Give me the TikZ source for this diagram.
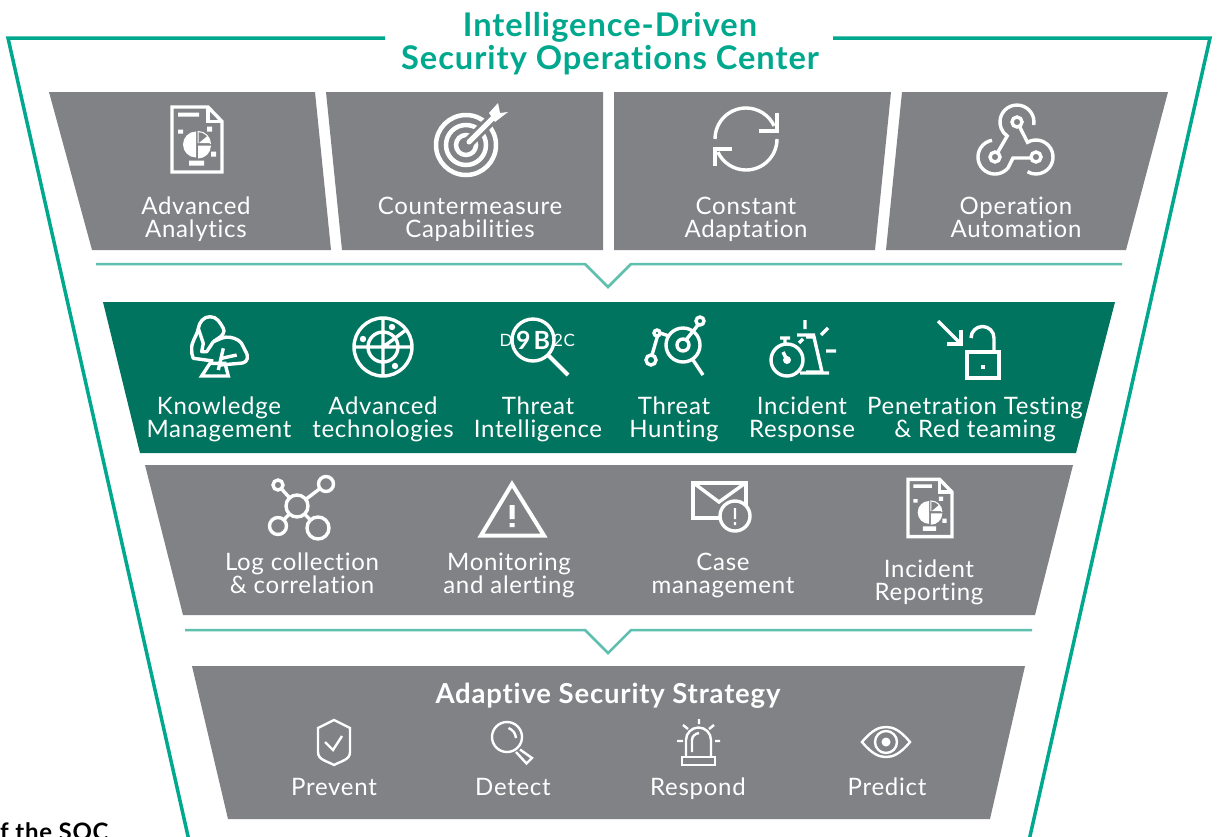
\documentclass[tikz,border=0pt]{standalone}
\usepackage{fontspec}
\setmainfont[LetterSpace=3,Ligatures=NoCommon]{Lato}
\usepackage{tikz}
\usetikzlibrary{
	calc,
	positioning,
}
\definecolor{kgray}{HTML}{808285}
\definecolor{kgreen}{HTML}{00745F}
\definecolor{kteal}{HTML}{00A88E}
\definecolor{klight}{HTML}{5DBFAD}
\tikzset{
	panel/.style={fill=kgray},
	label box/.style={
		white,
		align=center,
		inner sep=0pt,
		text height=40pt,
		text depth=1pt,
		font=\fontsize{24}{23.5}\selectfont,
	},
	small label/.style={
		white,
		inner sep=0pt,
		anchor=base,
		font=\fontsize{24}{23.5}\selectfont,
	},
	heavy/.style={draw=white,line width=3.4pt,line join=miter},
	light/.style={draw=white,line width=2.4pt},
	reportic/.pic={
		\draw[heavy] (-25,32.5) -- (11,32.5) -- (25,18) -- (25,-32.5) -- (-25,-32.5) -- cycle;
		\draw[heavy] (11,32.5) -- (11,18) -- (25,18);
		\fill[white] (-19,27) rectangle (2,23) (-19,10) rectangle (-14,6) (10,13) rectangle (15,8)
			(14,-12) rectangle (19,-17) (-8,-21) rectangle (7,-26);
		\fill[white] (-1,8) arc (90:270:13) -- cycle;
		\fill[white] (1,-6) -- (14,-6) arc (0:-90:13) -- cycle;
		\fill[white] (2,-3.5) -- (13,-3.5) arc (0:40:11) -- cycle;
		\draw[white,line width=1pt] (1,-3.5) -- (1,8) arc (90:0:12.5);
	},
	targetic/.pic={
		\draw[white,line width=4.5pt] (0,0) circle (30) (0,0) circle (20) (0,0) circle (10);
		\draw[kgray,line width=11pt,line cap=round] (3,3) -- (30,30);
		\draw[white,line width=5pt,line cap=round] (3,3) -- (27,27);
		\fill[white] (32,42) -- (34,32) -- (42,33) -- (29,23) -- (23,32) -- cycle;
	},
	syncic/.pic={
		\draw[heavy] (-31,0) arc (180:25:31);
		\draw[heavy] (31,26) -- (31,8) -- (13,8);
		\draw[heavy] (31,0) arc (0:-155:31);
		\draw[heavy] (-14,-10) -- (-31,-10) -- (-31,-27);
	},
	hookic/.pic={
		\draw[heavy] (0,23) circle (5) (-22,-12) circle (5) (19,-12) circle (5);
		\draw[heavy] (16.7,20) arc (-10:235:17) -- (-19.5,-7.7);
		\draw[heavy] (-25,4.7) arc (100:320:17) -- (-4,-13) -- (14,-13);
		\draw[heavy] (2.4,18.6) -- (10.5,2.7) arc (120:-120:17);
	},
	thinkic/.pic={
		\draw[heavy,line join=round] (-4.7,4.3) -- (0.3,7.7) to[out=30,in=-60] (5.3,17.7) to[out=120,in=0] (-8,29.3) to[out=180,in=80] (-19.7,17.7)
			to[out=-100,in=95] (-26.3,-4) to[out=-85,in=120] (-24.7,-12.3) -- (-4.7,-15);
		\draw[heavy,line join=round] (-19.7,17.7) -- (-14.7,2.7) -- (-16.3,-5.7) -- (-11.3,-5.7) -- (-4.7,4.3);
		\draw[heavy,line join=round] (-4.7,4.3) to[out=20,in=170] (12,8.7) to[out=-10,in=110] (25.3,-0.7) to[out=-70,in=80] (29.3,-12.3) to[out=-100,in=0] (22,-17.3) -- (2,-19);
		\draw[heavy] (-8,-17.3) -- (7,-17.3) -- (10.3,-30) -- (-16.3,-30) -- cycle;
		\draw[heavy] (5.3,-2.3) -- (0.3,-24);
		\draw[heavy] (3.7,-12.3) -- (18.7,-9);
	},
	radaric/.pic={
		\draw[heavy] (0,0) circle (29) (0,0) circle (15);
		\draw[heavy] (-29,0) -- (29,0) (0,-29) -- (0,29) (0,0) -- (23,17);
		\fill[white] (9,20) circle (3.2) (-20,8) circle (3.2) (12,-19) circle (3.2);
	},
	lensic/.pic={
		\draw[heavy] (0,0) circle (21);
		\draw[white,line width=4pt] (15,-15) -- (35,-35);
	},
	huntic/.pic={
		\draw[heavy] (3,1) circle (17) (3,1) circle (6) (20,25) circle (4) (-23,13) circle (3) (-29,-14) circle (5);
		\draw[heavy] (13,-14) -- (23,-29) (18,21) -- (6,6) (-28,-9) -- (-22.5,10) (-20,13) -- (-11,10);
	},
	watchic/.pic={
		\draw[heavy] (-13,-13) circle (16);
		\draw[heavy] (-20,9) -- (-10,9) (-15,9) -- (-15,3) (-17,-5) -- (-13,-13) (-1,4) -- (3,8);
		\fill[white] (-13,-13) circle (4);
		\draw[heavy] (6,10) -- (14,10) -- (22,-25) -- (6,-25);
		\draw[heavy] (-3,12) -- (15,12) (0,-26) -- (29,-26) (5,27) -- (5,18) (28,19) -- (21,12) (26,-4) -- (36,-4);
	},
	lockic/.pic={
		\draw[heavy] (-30,29) -- (-8,7);
		\draw[heavy] (-7,20) -- (-7,6) -- (-21,6);
		\draw[heavy] (-1,-2) rectangle (31,-28);
		\draw[heavy] (3,12) arc (180:0:11.5) -- (26,-2);
		\fill[white] (13,-15) rectangle (17,-19);
	},
	logic/.pic={
		\draw[heavy] (-3,1) -- (-22,22) (-3,1) -- (26,23) (-3,1) -- (-22,-19) (-3,1) -- (18,-21);
		\filldraw[heavy,fill=kgray] (-3,1) circle (11) (-22,22) circle (5) (26,23) circle (7.5) (-22,-19) circle (8.5) (18,-21) circle (11);
	},
	warnic/.pic={
		\draw[white,line width=4pt] (0,26) -- (-31,-25.5) -- (32,-25.5) -- cycle;
		\fill[white] (-2.5,5) rectangle (2.5,-9) (-2.5,-13) rectangle (2.5,-17);
	},
	mailic/.pic={
		\draw[heavy] (-27,22) rectangle (26,-13);
		\draw[heavy] (-25,21) -- (-1,3) -- (24,21);
		\filldraw[heavy,fill=kgray] (15,-11) circle (15);
		\fill[white] (13.8,-3) rectangle (16.2,-14) (13.8,-17) rectangle (16.2,-20);
	},
	shieldic/.pic={
		\draw[light] (0,23) -- (16,15) -- (16,-9) to[out=-90,in=30] (0,-22) to[out=150,in=-90] (-16,-9) -- (-16,15) -- cycle;
		\draw[light] (-9,1) -- (-1,-7) -- (8,7);
	},
	loupeic/.pic={
		\draw[light] (0,0) circle (15);
		\draw[light] (13,-12.5) -- (25,-21) -- (19.5,-26.5) -- (9,-15);
		\draw[light] (1.5,9) to[bend left=30] (9,-1);
	},
	beaconic/.pic={
		\draw[light] (-17,-15) rectangle (16,-23);
		\draw[light] (-13,-15) -- (-13,2) arc (180:0:12.5) -- (12,-15);
		\draw[light] (-7,-10) -- (-7,2) to[out=90,in=190] (0,9);
		\draw[light] (0,23) -- (0,18) (-16,17) -- (-11,13) (15,17) -- (10,13) (-22,1) -- (-16,1) (16,1) -- (21,1);
	},
	eyeic/.pic={
		\draw[light] (-24,0) .. controls (-14,12) and (-7,15) .. (0,15) .. controls (7,15) and (14,12) .. (24,0)
			.. controls (14,-12) and (7,-15) .. (0,-15) .. controls (-7,-15) and (-14,-12) .. (-24,0) -- cycle;
		\draw[light] (0,0) circle (11);
		\fill[white] (0,0) circle (4.5);
	},
}

\begin{document}
\begin{tikzpicture}[x=1pt,y=1pt]
\useasboundingbox (0,-836) rectangle (1217,0);

\draw[kteal,line width=3.5pt] (385,-38) -- (8,-38) -- (190,-845);
\draw[kteal,line width=3.5pt] (833,-38) -- (1210,-38) -- (1028,-845);

\node(title) at(610,-44) [kteal,align=center,inner sep=0pt,font=\fontsize{32.6}{33}\selectfont\bfseries] {Intelligence-Driven\\Security Operations Center};

\fill[panel] (49,-92) -- (315,-92) -- (331,-250) -- (92,-250) -- cycle;
\fill[panel] (326,-92) -- (603,-92) -- (603,-250) -- (342,-250) -- cycle;
\fill[panel] (614,-92) -- (891,-92) -- (875,-250) -- (614,-250) -- cycle;
\fill[panel] (902,-92) -- (1168,-92) -- (1126,-250) -- (886,-250) -- cycle;
\fill[kgreen] (103,-302) -- (1115,-302) -- (1076,-453) -- (140,-453) -- cycle;
\fill[panel] (145,-465) -- (1073,-465) -- (1035,-615) -- (183,-615) -- cycle;
\fill[panel] (192,-666) -- (1025,-666) -- (990,-819) -- (228,-819) -- cycle;

\draw[klight,line width=2.5pt] (96,-264) -- (585,-264) -- (608,-287) -- (631,-264) -- (1122,-264);
\draw[klight,line width=2.5pt] (185,-630) -- (585,-630) -- (608,-653) -- (631,-630) -- (1032,-630);

\foreach \x/\y/\txt [count=\i] in {
	196/218/Advanced\\Analytics
	,470/218/Countermeasure\\Capabilities
	,746/218/Constant\\Adaptation
	,1016/218/Operation\\Automation
	,219/418/Knowledge\\Management
	,383/418/Advanced\\technologies
	,538/418/Threat\\Intelligence
	,674/418/Threat\\Hunting
	,802/418/Incident\\Response
	,975/418/Penetration Testing\\\& Red teaming
	,302/574/Log collection\\\& correlation
	,509/574/Monitoring\\and alerting
	,723/574/Case\\management
	,929/581/Incident\\Reporting
}{
	\node(lbl\i) at(\x,-\y) [label box] {\txt};
}

\node(strategy) at(608,-703) [small label,font=\fontsize{27.5}{27}\selectfont\bfseries] {Adaptive Security Strategy};
\foreach \x/\txt [count=\i] in {
	334/Prevent
	,513/Detect
	,698/Respond
	,887/Predict
}{
	\node(act\i) at(\x,-795) [small label] {\txt};
}

\pic at(197,-139.5) {reportic};
\pic at(466,-145) {targetic};
\pic at(746,-139) {syncic};
\pic at(1017,-145) {hookic};

\pic at(218,-346) {thinkic};
\pic at(383,-347) {radaric};
\node(tid) at(506,-340) [white,inner sep=0pt,font=\fontsize{17}{17}\selectfont] {D};
\node(tib) at(533,-340) [white,inner sep=0pt,font=\fontsize{25}{25}\selectfont\bfseries] {9\hspace{3pt}B};
\node(tic) at(564,-340) [white,inner sep=0pt,font=\fontsize{17}{17}\selectfont] {2C};
\pic at(533,-340) {lensic};
\pic at(680,-346) {huntic};
\pic at(800,-347) {watchic};
\pic at(968,-350) {lockic};

\pic at(300,-507) {logic};
\pic at(512,-510) {warnic};
\pic at(720,-505) {mailic};
\pic[scale=.88] at(930,-508) {reportic};

\pic at(334,-743) {shieldic};
\pic at(507,-737) {loupeic};
\pic at(699,-742) {beaconic};
\pic at(886,-742) {eyeic};

\node(soc) at(0,-840) [anchor=base west,inner sep=0pt,black,font=\fontsize{24}{24}\selectfont\bfseries] {f the SOC};

\end{tikzpicture}
\end{document}
